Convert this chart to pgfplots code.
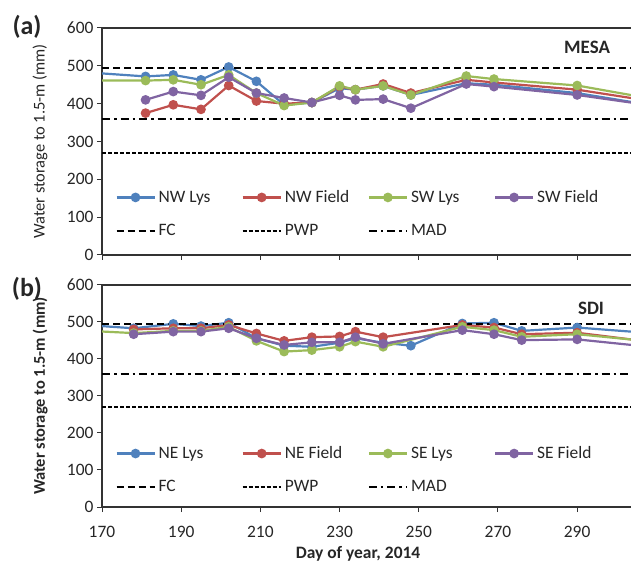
\documentclass[border=0pt]{standalone}
\usepackage{fontspec}
\setmainfont{Carlito}
\usepackage{pgfplots}
\pgfplotsset{compat=1.18}
\definecolor{cBlue}{HTML}{4F81BD}
\definecolor{cRed}{HTML}{C0504D}
\definecolor{cGreen}{HTML}{9BBB59}
\definecolor{cPurple}{HTML}{8064A2}
\newcommand{\lb}[1]{\makebox[80bp][l]{#1}}
\pgfplotsset{
  panel/.style={
    scale only axis, width=529bp,
    xmin=170, xmax=303.6, ymin=0, ymax=600,
    axis x line*=bottom, axis y line*=left,
    x axis line style={-}, y axis line style={-},
    axis line style={black!80, line width=1.2bp},
    xtick={170,190,...,290}, ytick={0,100,...,600},
    tick align=outside, major tick length=5bp,
    tick style={black!80, line width=1bp},
    extra y ticks={600}, extra y tick labels={},
    extra y tick style={grid=major, major grid style={black!80, line width=1.2bp}, tick style={draw=none}},
    ticklabel style={font=\fontsize{17.5}{17.5}\selectfont, text=black!85},
    xticklabel style={yshift=-11bp},
    /pgf/number format/assume math mode=true,
    ylabel style={at={(axis description cs:-0.117,0.5)}, anchor=center, font=\fontsize{16.5}{16.5}\selectfont, text=black!85},
    legend columns=4,
    legend style={draw=none, fill=none, anchor=south west, at={(axis description cs:0.025,0.065)},
      font=\fontsize{17.5}{19}\selectfont, text=black!85, row sep=14bp, inner sep=0pt,
      nodes={inner sep=3bp}},
    legend cell align=left,
    legend image code/.code={\draw[mark repeat=2, mark phase=2] plot coordinates {(0bp,0bp) (19bp,0bp) (38bp,0bp)};},
    ser/.style={line width=2.2bp, mark=*, mark size=3.7bp, mark options={solid}},
    fc/.style={black, line width=2bp, dash pattern=on 7bp off 4bp},
    pwp/.style={black, line width=2bp, dash pattern=on 4bp off 2bp},
    mad/.style={black, line width=2bp, dash pattern=on 8bp off 4bp on 2.5bp off 4bp},
  }
}
\begin{document}
\begin{tikzpicture}
\useasboundingbox (0,0) rectangle (631bp,564bp);
% ---------- (a) MESA ----------
\begin{axis}[panel, height=227bp, at={(102bp,309bp)}, anchor=south west,
  xticklabels={}, ylabel={Water storage to 1.5-m (mm)}]
\addplot[ser, cBlue] coordinates {(163,485) (181,472) (188,476) (195,463) (202,497) (209,459) (216,397) (223,403) (230,441) (234,437) (241,447) (248,423) (262,454) (269,450) (290,428) (311,392)};
\addlegendentry{\lb{NW Lys}}
\addplot[ser, cRed] coordinates {(181,375) (188,397) (195,385) (202,448) (209,407) (216,400) (223,403) (230,445) (234,437) (241,452) (248,428) (262,463) (269,456) (290,437) (311,403)};
\addlegendentry{\lb{NW Field}}
\addplot[ser, cGreen] coordinates {(163,461) (181,461) (188,463) (195,450) (202,476) (209,428) (216,395) (223,403) (230,447) (234,437) (241,447) (248,423) (262,473) (269,465) (290,448) (311,409)};
\addlegendentry{\lb{SW Lys}}
\addplot[ser, cPurple] coordinates {(181,410) (188,432) (195,422) (202,470) (209,428) (216,415) (223,403) (230,422) (234,410) (241,412) (248,388) (262,452) (269,445) (290,423) (311,392)};
\addlegendentry{\lb{SW Field}}
\addplot[fc] coordinates {(170,495) (303.6,495)};
\addlegendentry{\lb{FC}}
\addplot[pwp] coordinates {(170,270) (303.6,270)};
\addlegendentry{\lb{PWP}}
\addplot[mad] coordinates {(170,360) (303.6,360)};
\addlegendentry{\lb{MAD}}
\node[font=\bfseries\fontsize{19}{19}\selectfont, text=black!85] at (axis cs:292.5,548) {MESA};
\end{axis}
% ---------- (b) SDI ----------
\begin{axis}[panel, height=222bp, at={(102bp,57bp)}, anchor=south west,
  ylabel={\bfseries Water storage to 1.5-m (mm)},
  xlabel={\bfseries Day of year, 2014},
  xlabel style={at={(axis description cs:0.484,0)}, anchor=center, yshift=-47bp, font=\fontsize{17.5}{17.5}\selectfont, text=black!85},
  legend style={at={(axis description cs:0.025,0.048)}}]
\addplot[ser, cBlue] coordinates {(163,494) (178,483) (188,495) (195,489) (202,498) (209,456) (216,436) (223,433) (230,444) (234,456) (241,444) (248,436) (261,496) (269,498) (276,476) (290,485) (311,468)};
\addlegendentry{\lb{NE Lys}}
\addplot[ser, cRed] coordinates {(178,480) (188,483) (195,483) (202,492) (209,469) (216,449) (223,459) (230,461) (234,474) (241,459) (261,492) (269,485) (276,467) (290,471) (311,443)};
\addlegendentry{\lb{NE Field}}
\addplot[ser, cGreen] coordinates {(163,478) (178,470) (188,476) (195,476) (202,487) (209,449) (216,420) (223,424) (230,433) (234,447) (241,433) (261,487) (269,478) (276,460) (290,467) (311,445)};
\addlegendentry{\lb{SE Lys}}
\addplot[ser, cPurple] coordinates {(178,467) (188,474) (195,474) (202,483) (209,456) (216,438) (223,445) (230,445) (234,459) (241,441) (261,478) (269,467) (276,451) (290,453) (311,430)};
\addlegendentry{\lb{SE Field}}
\addplot[fc] coordinates {(170,495) (303.6,495)};
\addlegendentry{\lb{FC}}
\addplot[pwp] coordinates {(170,270) (303.6,270)};
\addlegendentry{\lb{PWP}}
\addplot[mad] coordinates {(170,360) (303.6,360)};
\addlegendentry{\lb{MAD}}
\node[font=\bfseries\fontsize{19}{19}\selectfont, text=black!85] at (axis cs:293.5,538) {SDI};
\end{axis}
\node[font=\bfseries\fontsize{26}{26}\selectfont, text=black!85] at (27bp,537bp) {(a)};
\node[font=\bfseries\fontsize{26}{26}\selectfont, text=black!85] at (27bp,275bp) {(b)};
\end{tikzpicture}
\end{document}
